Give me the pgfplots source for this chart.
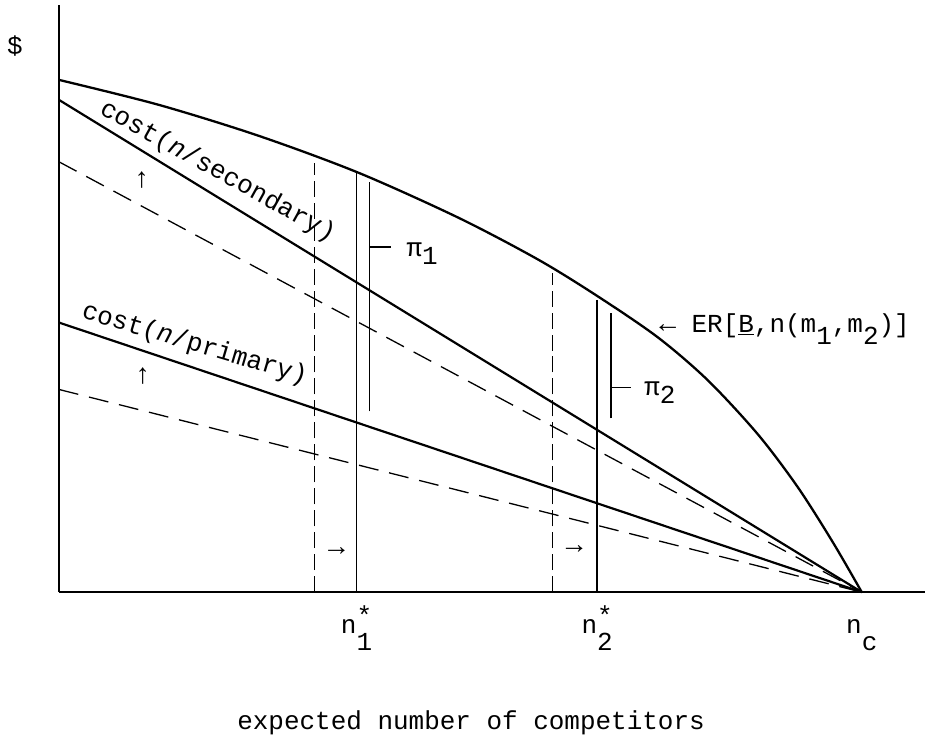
\documentclass[border=0pt]{standalone}
\usepackage{fontspec}
\setmainfont{Liberation Mono}
\usepackage{pgfplots}
\pgfplotsset{compat=1.18}

\newcommand\tw{\fontsize{26}{30}\selectfont}
\newcommand\arw{\fontsize{28}{28}\selectfont}
\newcommand\lo[1]{\raisebox{-0.68em}{#1}}
\newcommand\st{\rlap{\raisebox{0.35em}{*}}}

\begin{document}
\begin{tikzpicture}
\begin{axis}[
  x=1pt, y=1pt,
  xmin=0, xmax=867, ymin=0, ymax=588,
  axis x line=bottom, axis y line=left,
  axis line style={-, line width=2.6pt},
  ytick=\empty,
  xtick={298,539,804},
  xticklabels={n\st\lo{1}, n\st\lo{2}, n\lo{c}},
  major tick length=0pt,
  xticklabel style={font=\tw, anchor=base, inner sep=0pt, yshift=-41pt},
  xlabel={expected number of competitors},
  xlabel style={font=\tw, at={(axis description cs:0.476,-0.2347)}, anchor=base, inner sep=0pt},
  ylabel={\$},
  ylabel style={font=\tw, rotate=-90, at={(axis description cs:-0.0507,0.930)}, anchor=center, inner sep=0pt},
  clip=false,
]
% ER[B, n(m1,m2)]
\addplot[black, no marks, line width=2.3pt, smooth] coordinates {
  (0,513) (100,488) (200,457) (300,420) (400,375) (480,333) (540,296)
  (600,255) (650,212) (700,158) (740,105) (775,50) (804,0)};
% cost given secondary, and its lower (dashed) position
\addplot[black, no marks, line width=2.2pt] coordinates {(0,493) (804,0)};
\addplot[black, no marks, line width=1.3pt, dash pattern=on 20pt off 11pt] coordinates {(0,431) (804,0)};
% cost given primary, and its lower (dashed) position
\addplot[black, no marks, line width=2.2pt] coordinates {(0,270) (804,0)};
\addplot[black, no marks, line width=1.3pt, dash pattern=on 20pt off 11pt] coordinates {(0,203) (804,0)};
% optimum positions
\addplot[black, no marks, line width=1.3pt, dash pattern=on 16pt off 6pt] coordinates {(256,0) (256,430)};
\addplot[black, no marks, line width=1.8pt] coordinates {(298,0) (298,420)};
\addplot[black, no marks, line width=1.3pt, dash pattern=on 16pt off 6pt] coordinates {(494,0) (494,320)};
\addplot[black, no marks, line width=1.8pt] coordinates {(539,0) (539,293)};
% profit brackets
\addplot[black, no marks, line width=1.8pt] coordinates {(311,181) (311,411)};
\addplot[black, no marks, line width=1.8pt] coordinates {(311,346) (333,346)};
\addplot[black, no marks, line width=1.8pt] coordinates {(553,174) (553,280)};
\addplot[black, no marks, line width=1.8pt] coordinates {(553,205) (573,205)};

\node[font=\tw, rotate=-29] at (axis cs:159,421) {cost(\textit{n}/secondary)};
\node[font=\tw, rotate=-16.5] at (axis cs:136,248) {cost(\textit{n}/primary)};
\node[font=\arw] at (axis cs:83,413) {↑};
\node[font=\arw] at (axis cs:84,216) {↑};
\node[font=\arw] at (axis cs:278,41) {→};
\node[font=\arw] at (axis cs:516,43) {→};
\node[font=\tw, anchor=base west, inner sep=0pt] at (axis cs:348,336) {π\raisebox{-0.3em}{1}};
\node[font=\tw, anchor=base west, inner sep=0pt] at (axis cs:586,197) {π\raisebox{-0.3em}{2}};
\node[font=\tw, anchor=base west, inner sep=0pt] at (axis cs:601,260)
  {{\arw ←} ER[\underline{B},n(m\raisebox{-0.45em}{1},m\raisebox{-0.45em}{2})]};
\path (axis cs:-59,-148) rectangle (axis cs:867,593);
\end{axis}
\end{tikzpicture}
\end{document}
